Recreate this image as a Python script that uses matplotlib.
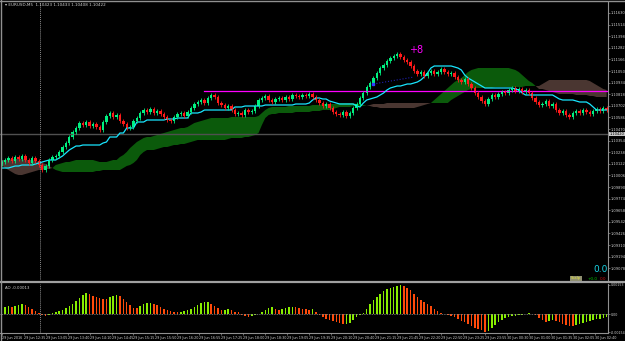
import numpy as np
import matplotlib
matplotlib.use("Agg")
import matplotlib.pyplot as plt
from matplotlib.lines import Line2D

# EURUSD M5 - closes per bar, each bar opens at the previous close
first_open = 1.1012
closes = [
    1.1014, 1.1016, 1.1018, 1.1015, 1.1019, 1.1017, 1.1020, 1.1016, 1.1013, 1.1018,
    1.1015, 1.1011, 1.1006, 1.1010, 1.1016, 1.1019, 1.1020, 1.1024, 1.1029, 1.1033,
    1.1039, 1.1044, 1.1048, 1.1053, 1.1051, 1.1054, 1.1050, 1.1052, 1.1049, 1.1046,
    1.1054, 1.1060, 1.1063, 1.1059, 1.1061, 1.1055, 1.1052, 1.1048, 1.1049, 1.1055,
    1.1058, 1.1063, 1.1066, 1.1064, 1.1067, 1.1063, 1.1065, 1.1062, 1.1059, 1.1056,
    1.1055, 1.1059, 1.1062, 1.1063, 1.1060, 1.1064, 1.1068, 1.1072, 1.1074, 1.1076,
    1.1073, 1.1078, 1.1081, 1.1079, 1.1073, 1.1071, 1.1068, 1.1070, 1.1066, 1.1062,
    1.1063, 1.1061, 1.1066, 1.1064, 1.1065, 1.1070, 1.1076, 1.1078, 1.1080, 1.1076,
    1.1074, 1.1077, 1.1078, 1.1076, 1.1079, 1.1077, 1.1081, 1.1080, 1.1079, 1.1081,
    1.1080, 1.1082, 1.1079, 1.1076, 1.1073, 1.1070, 1.1072, 1.1068, 1.1064, 1.1062,
    1.1061, 1.1064, 1.1060, 1.1063, 1.1068, 1.1072, 1.1078, 1.1083, 1.1089, 1.1093,
    1.1098, 1.1103, 1.1108, 1.1111, 1.1115, 1.1118, 1.1120, 1.1122, 1.1119, 1.1116,
    1.1114, 1.1110, 1.1105, 1.1102, 1.1104, 1.1100, 1.1103, 1.1105, 1.1102, 1.1104,
    1.1107, 1.1104, 1.1102, 1.1103, 1.1099, 1.1096, 1.1094, 1.1097, 1.1092, 1.1088,
    1.1083, 1.1079, 1.1075, 1.1072, 1.1077, 1.1081, 1.1079, 1.1082, 1.1084, 1.1083,
    1.1086, 1.1088, 1.1085, 1.1087, 1.1084, 1.1086, 1.1083, 1.1078, 1.1074, 1.1071,
    1.1072, 1.1075, 1.1070, 1.1072, 1.1066, 1.1063, 1.1065, 1.1061, 1.1059, 1.1063,
    1.1065, 1.1063, 1.1066, 1.1064, 1.1062, 1.1065, 1.1067, 1.1065, 1.1068, 1.1066,
]
wick = 0.00018

kijun = [
    1.1008, 1.1008, 1.1008, 1.1009, 1.1010, 1.1010, 1.1011, 1.1011, 1.1011, 1.1011,
    1.1012, 1.1013, 1.1014, 1.1015, 1.1016, 1.1016, 1.1016, 1.1018, 1.1020, 1.1023,
    1.1026, 1.1028, 1.1030, 1.1030, 1.1031, 1.1031, 1.1031, 1.1031, 1.1031, 1.1031,
    1.1033, 1.1034, 1.1039, 1.1039, 1.1039, 1.1043, 1.1043, 1.1048, 1.1048, 1.1048,
    1.1054, 1.1054, 1.1054, 1.1056, 1.1056, 1.1056, 1.1056, 1.1056, 1.1056, 1.1057,
    1.1057, 1.1057, 1.1058, 1.1058, 1.1058, 1.1058, 1.1063, 1.1063, 1.1063, 1.1064,
    1.1066, 1.1066, 1.1066, 1.1066, 1.1066, 1.1066, 1.1066, 1.1066, 1.1066, 1.1069,
    1.1069, 1.1069, 1.1070, 1.1070, 1.1070, 1.1070, 1.1070, 1.1070, 1.1071, 1.1071,
    1.1071, 1.1071, 1.1071, 1.1071, 1.1071, 1.1071, 1.1071, 1.1072, 1.1072, 1.1072,
    1.1072, 1.1073, 1.1076, 1.1078, 1.1078, 1.1077, 1.1077, 1.1075, 1.1074, 1.1073,
    1.1072, 1.1072, 1.1072, 1.1072, 1.1072, 1.1070, 1.1069, 1.1073, 1.1076, 1.1077,
    1.1078, 1.1079, 1.1081, 1.1083, 1.1086, 1.1088, 1.1089, 1.1090, 1.1090, 1.1091,
    1.1092, 1.1092, 1.1093, 1.1094, 1.1096, 1.1099, 1.1103, 1.1108, 1.1110, 1.1110,
    1.1110, 1.1110, 1.1110, 1.1110, 1.1109, 1.1108, 1.1106, 1.1101, 1.1098, 1.1096,
    1.1094, 1.1092, 1.1090, 1.1088, 1.1088, 1.1088, 1.1088, 1.1088, 1.1088, 1.1088,
    1.1088, 1.1088, 1.1087, 1.1086, 1.1083, 1.1081, 1.1081, 1.1081, 1.1081, 1.1081,
    1.1081, 1.1081, 1.1081, 1.1081, 1.1079, 1.1077, 1.1076, 1.1076, 1.1076, 1.1076,
    1.1075, 1.1074, 1.1074, 1.1074, 1.1072, 1.1069, 1.1066, 1.1066, 1.1066, 1.1066,
]

span_a = [
    1.1011, 1.1008, 1.1006, 1.1004, 1.1002, 1.1001, 1.1001, 1.1002, 1.1003, 1.1004,
    1.1005, 1.1006, 1.1006, 1.1007, 1.1007, 1.1008, 1.1011, 1.1012, 1.1013, 1.1014,
    1.1014, 1.1015, 1.1016, 1.1016, 1.1016, 1.1016, 1.1016, 1.1016, 1.1015, 1.1014,
    1.1014, 1.1014, 1.1015, 1.1016, 1.1016, 1.1019, 1.1021, 1.1024, 1.1028, 1.1031,
    1.1034, 1.1036, 1.1038, 1.1039, 1.1039, 1.1040, 1.1041, 1.1042, 1.1043, 1.1044,
    1.1045, 1.1046, 1.1047, 1.1048, 1.1048, 1.1049, 1.1051, 1.1053, 1.1054, 1.1055,
    1.1056, 1.1057, 1.1058, 1.1058, 1.1058, 1.1058, 1.1058, 1.1058, 1.1059, 1.1059,
    1.1059, 1.1059, 1.1059, 1.1059, 1.1059, 1.1059, 1.1060, 1.1063, 1.1066, 1.1068,
    1.1069, 1.1069, 1.1069, 1.1069, 1.1069, 1.1070, 1.1070, 1.1070, 1.1070, 1.1070,
    1.1070, 1.1070, 1.1071, 1.1071, 1.1071, 1.1072, 1.1072, 1.1072, 1.1072, 1.1072,
    1.1073, 1.1073, 1.1073, 1.1073, 1.1073, 1.1072, 1.1072, 1.1071, 1.1071, 1.1070,
    1.1069, 1.1069, 1.1068, 1.1068, 1.1068, 1.1068, 1.1068, 1.1068, 1.1068, 1.1068,
    1.1068, 1.1068, 1.1068, 1.1069, 1.1070, 1.1071, 1.1072, 1.1073, 1.1076, 1.1079,
    1.1082, 1.1085, 1.1088, 1.1091, 1.1094, 1.1096, 1.1098, 1.1101, 1.1104, 1.1106,
    1.1107, 1.1108, 1.1108, 1.1108, 1.1108, 1.1108, 1.1108, 1.1108, 1.1108, 1.1108,
    1.1108, 1.1107, 1.1106, 1.1104, 1.1101, 1.1098, 1.1095, 1.1093, 1.1090, 1.1087,
    1.1087, 1.1086, 1.1085, 1.1084, 1.1083, 1.1082, 1.1082, 1.1082, 1.1082, 1.1082,
    1.1081, 1.1081, 1.1081, 1.1081, 1.1080, 1.1080, 1.1079, 1.1079, 1.1079, 1.1079,
]

span_b = [
    1.1016, 1.1016, 1.1016, 1.1017, 1.1017, 1.1017, 1.1017, 1.1016, 1.1016, 1.1016,
    1.1015, 1.1014, 1.1013, 1.1012, 1.1010, 1.1008, 1.1006, 1.1005, 1.1004, 1.1004,
    1.1004, 1.1004, 1.1004, 1.1004, 1.1004, 1.1004, 1.1004, 1.1004, 1.1005, 1.1005,
    1.1006, 1.1006, 1.1006, 1.1006, 1.1006, 1.1006, 1.1008, 1.1010, 1.1011, 1.1013,
    1.1016, 1.1021, 1.1024, 1.1026, 1.1026, 1.1026, 1.1027, 1.1028, 1.1029, 1.1029,
    1.1030, 1.1031, 1.1031, 1.1032, 1.1032, 1.1033, 1.1034, 1.1035, 1.1036, 1.1036,
    1.1036, 1.1036, 1.1036, 1.1036, 1.1036, 1.1036, 1.1036, 1.1037, 1.1038, 1.1038,
    1.1038, 1.1038, 1.1039, 1.1039, 1.1040, 1.1041, 1.1043, 1.1051, 1.1058, 1.1061,
    1.1062, 1.1062, 1.1063, 1.1063, 1.1063, 1.1063, 1.1063, 1.1064, 1.1064, 1.1064,
    1.1064, 1.1064, 1.1065, 1.1065, 1.1065, 1.1066, 1.1066, 1.1066, 1.1067, 1.1068,
    1.1069, 1.1069, 1.1069, 1.1069, 1.1070, 1.1070, 1.1070, 1.1070, 1.1071, 1.1071,
    1.1072, 1.1072, 1.1072, 1.1072, 1.1073, 1.1073, 1.1073, 1.1073, 1.1073, 1.1073,
    1.1073, 1.1073, 1.1073, 1.1073, 1.1073, 1.1073, 1.1073, 1.1073, 1.1073, 1.1073,
    1.1073, 1.1073, 1.1073, 1.1076, 1.1078, 1.1080, 1.1082, 1.1084, 1.1086, 1.1087,
    1.1088, 1.1088, 1.1088, 1.1088, 1.1088, 1.1088, 1.1089, 1.1089, 1.1089, 1.1089,
    1.1089, 1.1089, 1.1089, 1.1089, 1.1089, 1.1090, 1.1090, 1.1090, 1.1090, 1.1090,
    1.1092, 1.1094, 1.1096, 1.1096, 1.1096, 1.1096, 1.1096, 1.1096, 1.1096, 1.1096,
    1.1096, 1.1096, 1.1096, 1.1096, 1.1095, 1.1093, 1.1091, 1.1089, 1.1087, 1.1086,
]

# Awesome Oscillator
ao = [
    0.00030, 0.00035, 0.00040, 0.00035, 0.00040, 0.00045, 0.00050, 0.00045, 0.00035, 0.00025,
    0.00015, 0.00005, -0.00005, -0.00010, -0.00005, 0.00005, 0.00010, 0.00015, 0.00020, 0.00030,
    0.00040, 0.00050, 0.00065, 0.00080, 0.00095, 0.00105, 0.00100, 0.00090, 0.00085, 0.00080,
    0.00077, 0.00074, 0.00085, 0.00090, 0.00095, 0.00090, 0.00075, 0.00060, 0.00045, 0.00030,
    0.00028, 0.00040, 0.00050, 0.00055, 0.00056, 0.00050, 0.00045, 0.00035, 0.00025, 0.00020,
    0.00015, 0.00010, 0.00008, 0.00011, 0.00015, 0.00020, 0.00025, 0.00035, 0.00045, 0.00055,
    0.00058, 0.00060, 0.00050, 0.00040, 0.00030, 0.00020, 0.00022, 0.00025, 0.00020, 0.00010,
    0.00008, -0.00005, -0.00010, -0.00015, -0.00010, -0.00005, 0.00002, 0.00010, 0.00020, 0.00030,
    0.00035, 0.00025, 0.00020, 0.00025, 0.00030, 0.00033, 0.00036, 0.00034, 0.00030, 0.00025,
    0.00024, 0.00022, 0.00026, 0.00010, -0.00005, -0.00015, -0.00025, -0.00030, -0.00035, -0.00040,
    -0.00045, -0.00050, -0.00048, -0.00045, -0.00030, -0.00015, -0.00005, 0.00005, 0.00025, 0.00050,
    0.00070, 0.00085, 0.00100, 0.00115, 0.00125, 0.00130, 0.00135, 0.00140, 0.00145, 0.00140,
    0.00130, 0.00120, 0.00100, 0.00085, 0.00070, 0.00060, 0.00050, 0.00040, 0.00025, 0.00015,
    0.00005, 0.00000, -0.00005, -0.00010, -0.00015, -0.00025, -0.00035, -0.00040, -0.00050, -0.00060,
    -0.00070, -0.00075, -0.00080, -0.00090, -0.00085, -0.00070, -0.00055, -0.00040, -0.00030, -0.00020,
    -0.00015, -0.00010, -0.00009, -0.00005, -0.00003, 0.00000, 0.00003, 0.00001, -0.00005, -0.00020,
    -0.00030, -0.00040, -0.00035, -0.00030, -0.00035, -0.00040, -0.00050, -0.00055, -0.00060, -0.00062,
    -0.00055, -0.00050, -0.00045, -0.00040, -0.00035, -0.00030, -0.00025, -0.00024, -0.00020, -0.00015,
]

time_labels = [
    "29 Jun 2016", "29 Jun 12:35", "29 Jun 13:05", "29 Jun 13:40", "29 Jun 14:10",
    "29 Jun 14:45", "29 Jun 15:15", "29 Jun 15:50", "29 Jun 16:20", "29 Jun 16:55",
    "29 Jun 17:25", "29 Jun 18:00", "29 Jun 18:30", "29 Jun 19:05", "29 Jun 19:35",
    "29 Jun 20:10", "29 Jun 20:40", "29 Jun 21:15", "29 Jun 21:45", "29 Jun 22:20",
    "29 Jun 22:50", "29 Jun 23:25", "29 Jun 23:55", "30 Jun 00:30", "30 Jun 01:00",
    "30 Jun 01:35", "30 Jun 02:05", "30 Jun 02:40",
]
title_text = "\u25be EURUSD,M5  1.10423 1.10433 1.10408 1.10422"
ao_label = "AO -0.00013"
ao_tick_labels = ["0.00153", "0.00", "-0.00154"]
current_price = 1.1042
level_price = 1.1085
level_start = 60
cursor_bar = 11.3
trend_x = [110, 122]
trend_y = [1.1092, 1.1099]

W, H = 625, 341
fig = plt.figure(figsize=(W / 100, H / 100), dpi=100, facecolor="black")
ax = fig.add_axes([0.0, 1 - 280 / H, 608 / W, 278 / H], facecolor="black")
ax2 = fig.add_axes([0.0, 1 - 333 / H, 608 / W, 49 / H], facecolor="black")

x = np.arange(len(closes))
c = np.array(closes)
o = np.concatenate([[first_open], c[:-1]])
up = c >= o
ccol = np.where(up, "#00f080", "#ff1a1a")
hi = np.maximum(o, c) + wick
lo = np.minimum(o, c) - wick

a = np.array(span_a)
b = np.array(span_b)
ax.fill_between(x, a, b, where=a >= b, interpolate=True, color="#0b5a0b", lw=0)
ax.fill_between(x, a, b, where=a <= b, interpolate=True, color="#4a3631", lw=0)

ax.axhline(current_price, color="#505050", lw=1.0)
ax.plot([level_start, x[-1] + 2], [level_price, level_price], color="#ff00ff", lw=0.9)
ax.plot(x, kijun, color="#19e6ff", lw=0.9)

ax.vlines(x, lo, hi, colors=ccol, lw=0.6)
ax.bar(x, np.maximum(np.abs(c - o), 0.00004), bottom=np.minimum(o, c),
       width=0.7, color=ccol, lw=0)

ax.plot(trend_x, trend_y, color="#2020b0", ls=":", lw=0.8)
ax.plot(trend_x[0], trend_y[0], "s", color="#3040ff", ms=1.8)
ax.text(120.5, 1.1126, "+8", color="#ff00ff", fontsize=7, ha="left", va="center")

for axx in (ax, ax2):
    axx.axvline(cursor_bar, color="#8a8a8a", ls=(0, (1, 1)), lw=0.7)
    axx.set_xlim(-0.5, 179.4)
    for s in ("left", "bottom", "top"):
        axx.spines[s].set_visible(False)
    axx.spines["right"].set_color("#909090")
    axx.spines["right"].set_linewidth(0.8)
    axx.yaxis.tick_right()
    axx.tick_params(axis="y", colors="#909090", labelcolor="#d0d0d0",
                    labelsize=2.6, length=1.2, width=0.5, pad=0.6)

ax.set_ylim(1.0896, 1.1174)
yt = np.arange(1.1163, 1.0900, -0.00116)
ax.set_yticks(yt)
ax.set_yticklabels(["%.5f" % v for v in yt])
ax.set_xticks([])
ax.text(1.003, current_price, "1.10420", transform=ax.get_yaxis_transform(),
        fontsize=2.6, color="black", va="center", ha="left",
        bbox=dict(boxstyle="square,pad=0.12", fc="#c8c8c8", ec="none"))

aoa = np.array(ao)
rising = np.concatenate([[True], aoa[1:] > aoa[:-1]])
acol = np.where(rising, "#88ee00", "#ff4a0a")
ax2.bar(x, aoa, width=0.45, color=acol, lw=0)
ax2.axhline(0, color="#8a8a8a", ls=(0, (1, 1)), lw=0.6)
ax2.set_ylim(-0.00095, 0.00150)
ax2.set_yticks([0.00145, 0.0, -0.00090])
ax2.set_yticklabels(ao_tick_labels)
ax2.tick_params(axis="y", labelsize=2.3)
ax2.set_xticks(np.arange(len(time_labels)) * 6.5)
ax2.set_xticklabels(time_labels, fontsize=2.4, color="#d0d0d0", ha="left")
ax2.tick_params(axis="x", colors="#909090", labelcolor="#d0d0d0",
                length=1.5, width=0.5, pad=0.8)
ax2.spines["bottom"].set_visible(True)
ax2.spines["bottom"].set_color("#909090")
ax2.spines["bottom"].set_linewidth(0.8)

# frame lines
fig.add_artist(Line2D([0, 1], [1 - 282 / H] * 2, color="#a0a0a0", lw=1.6,
                      transform=fig.transFigure))
fig.add_artist(Line2D([0, 1], [1 - 0.5 / H] * 2, color="#909090", lw=1.0,
                      transform=fig.transFigure))
fig.add_artist(Line2D([0.5 / W] * 2, [0, 1], color="#909090", lw=1.0,
                      transform=fig.transFigure))

fig.text(5 / W, 1 - 5 / H, title_text, fontsize=3, color="#d0d0d0", va="center")
fig.text(5 / W, 1 - 288 / H, ao_label, fontsize=2.8, color="#d0d0d0", va="center")
fig.text(593 / W, 1 - 270 / H, "0.0", fontsize=6.5, color="#19d6e6", va="center")
fig.text(571 / W, 1 - 278.5 / H, "Scalp", fontsize=2.6, color="#e6e640", va="center",
         bbox=dict(boxstyle="square,pad=0.25", fc="#8f8f70", ec="none"))
fig.text(588 / W, 1 - 278.5 / H, "+0.0", fontsize=3.0, color="#00c000", va="center")
fig.text(600 / W, 1 - 278.5 / H, "0.0", fontsize=3.0, color="#d01010", va="center")

fig.savefig("out.png", dpi=100, facecolor="black")
